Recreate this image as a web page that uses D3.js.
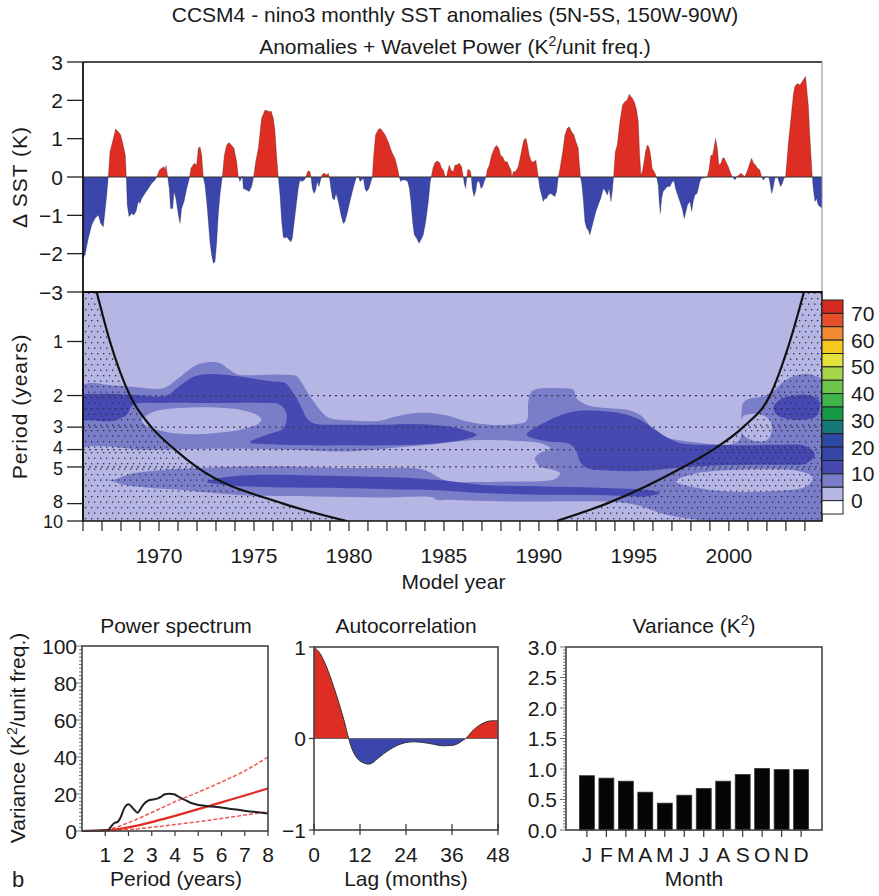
<!DOCTYPE html>
<html><head><meta charset="utf-8">
<script src="https://cdn.jsdelivr.net/npm/d3@7"></script>
<style>
body{margin:0;background:#fff;}
text{font-family:"Liberation Sans",Arial,Helvetica,sans-serif;fill:#1a1a1a;}
</style></head><body>
<svg id="chart" width="879" height="896"></svg>
<script>
// ---------------- DATA ----------------
const titleMain = "CCSM4 - nino3 monthly SST anomalies (5N-5S, 150W-90W)";
const sstYears = [1966.00,1966.11,1966.28,1966.46,1966.63,1966.81,1966.93,1967.07,1967.16,1967.25,1967.33,1967.42,1967.60,1967.72,1967.86,1967.98,1968.12,1968.23,1968.28,1968.33,1968.42,1968.56,1968.68,1968.79,1968.91,1969.00,1969.09,1969.26,1969.44,1969.61,1969.79,1969.89,1970.02,1970.14,1970.26,1970.32,1970.37,1970.46,1970.54,1970.61,1970.72,1970.79,1970.89,1971.02,1971.11,1971.19,1971.32,1971.46,1971.60,1971.68,1971.86,1971.98,1972.07,1972.16,1972.25,1972.33,1972.42,1972.51,1972.60,1972.68,1972.77,1972.86,1972.95,1973.04,1973.12,1973.21,1973.33,1973.44,1973.56,1973.68,1973.82,1973.95,1974.09,1974.18,1974.26,1974.39,1974.44,1974.61,1974.75,1974.88,1974.98,1975.09,1975.23,1975.40,1975.58,1975.84,1975.90,1976.02,1976.11,1976.19,1976.28,1976.37,1976.46,1976.54,1976.63,1976.72,1976.84,1976.95,1977.02,1977.12,1977.25,1977.33,1977.42,1977.51,1977.65,1977.72,1977.79,1977.86,1977.95,1978.00,1978.07,1978.16,1978.25,1978.33,1978.42,1978.53,1978.60,1978.70,1978.83,1978.91,1978.97,1979.05,1979.14,1979.23,1979.32,1979.44,1979.58,1979.70,1979.79,1979.93,1980.05,1980.18,1980.32,1980.40,1980.49,1980.58,1980.67,1980.76,1980.84,1980.93,1981.05,1981.16,1981.23,1981.30,1981.40,1981.54,1981.65,1981.76,1981.90,1982.07,1982.25,1982.42,1982.56,1982.65,1982.72,1982.82,1982.95,1983.09,1983.18,1983.26,1983.35,1983.44,1983.56,1983.69,1983.79,1983.91,1984.04,1984.18,1984.28,1984.33,1984.42,1984.53,1984.67,1984.79,1984.88,1984.97,1985.05,1985.14,1985.19,1985.28,1985.37,1985.49,1985.58,1985.67,1985.81,1985.93,1986.02,1986.07,1986.14,1986.19,1986.25,1986.32,1986.40,1986.44,1986.49,1986.58,1986.67,1986.75,1986.86,1986.95,1987.04,1987.12,1987.21,1987.28,1987.39,1987.51,1987.65,1987.77,1987.89,1987.98,1988.09,1988.21,1988.33,1988.44,1988.53,1988.58,1988.65,1988.74,1988.82,1988.91,1989.04,1989.14,1989.21,1989.32,1989.40,1989.49,1989.61,1989.74,1989.84,1989.93,1989.96,1990.05,1990.14,1990.23,1990.32,1990.40,1990.49,1990.61,1990.72,1990.84,1990.93,1991.02,1991.11,1991.25,1991.37,1991.49,1991.60,1991.72,1991.84,1991.95,1992.07,1992.12,1992.19,1992.26,1992.33,1992.42,1992.51,1992.60,1992.68,1992.77,1992.86,1993.00,1993.12,1993.25,1993.39,1993.51,1993.60,1993.70,1993.79,1993.86,1993.93,1994.02,1994.12,1994.26,1994.40,1994.53,1994.65,1994.75,1994.84,1994.93,1995.05,1995.14,1995.23,1995.30,1995.37,1995.44,1995.53,1995.61,1995.70,1995.79,1995.88,1995.96,1996.11,1996.19,1996.28,1996.33,1996.39,1996.46,1996.54,1996.67,1996.77,1996.90,1997.02,1997.12,1997.19,1997.30,1997.42,1997.54,1997.65,1997.74,1997.82,1997.95,1998.04,1998.12,1998.21,1998.32,1998.39,1998.47,1998.56,1998.74,1998.86,1998.95,1999.05,1999.14,1999.21,1999.30,1999.39,1999.47,1999.58,1999.67,1999.75,1999.84,1999.97,2000.09,2000.18,2000.25,2000.32,2000.40,2000.53,2000.63,2000.74,2000.84,2000.95,2001.07,2001.19,2001.30,2001.40,2001.51,2001.63,2001.72,2001.81,2001.90,2002.00,2002.11,2002.18,2002.25,2002.32,2002.42,2002.56,2002.63,2002.72,2002.81,2002.90,2002.98,2003.05,2003.12,2003.21,2003.30,2003.39,2003.47,2003.60,2003.74,2003.86,2003.96,2004.04,2004.11,2004.18,2004.25,2004.32,2004.39,2004.44,2004.53,2004.61,2004.70,2004.79,2004.90];
const sstValues = [-2.12,-2.03,-1.60,-1.25,-1.08,-0.99,-1.21,-1.30,-0.90,-0.47,0,0.66,1.01,1.25,1.18,1.10,0.83,0.57,0,-0.73,-1.03,-0.95,-0.99,-0.90,-0.64,-0.69,-0.56,-0.43,-0.30,-0.17,-0.08,0,0.18,0.23,0.27,0.18,0.30,0,-0.30,-0.82,-0.82,-0.38,-0.56,-0.99,-1.21,-0.82,-0.64,-0.30,-0.03,0.23,0.36,0.31,0.75,0.79,0.57,0,-0.21,-0.64,-1.17,-1.69,-2.03,-2.25,-2.21,-1.69,-0.99,-0.47,0,0.57,0.83,0.90,0.83,0.75,0.40,0,-0.12,0.03,-0.30,-0.34,-0.38,-0.25,0,0.40,0.75,1.53,1.75,1.70,1.72,1.53,1.18,0.57,0,-0.47,-1.17,-1.56,-1.60,-1.56,-1.64,-1.69,-1.60,-1.17,-0.64,-0.30,-0.08,-0.12,-0.08,-0.02,0.10,0.16,0.14,0,-0.30,-0.43,-0.34,-0.12,-0.25,-0.03,0.07,0.10,0.05,0.10,0,-0.30,-0.56,-0.60,-0.43,-0.64,-0.99,-1.21,-1.17,-0.90,-0.64,-0.38,-0.12,0,0.03,-0.12,-0.08,-0.03,-0.30,-0.38,-0.30,-0.12,0,0.57,1.10,1.23,1.27,1.20,1.10,0.92,0.66,0.49,0.23,0,-0.12,-0.08,-0.08,-0.12,-0.30,-0.64,-1.17,-1.51,-1.60,-1.73,-1.64,-1.51,-1.17,-0.64,-0.12,0,0.23,0.38,0.42,0.36,0.23,0.18,0.03,0.01,0.14,0.31,0.18,0.14,0.31,0.31,0.36,0.27,0,-0.17,-0.30,-0.08,0.18,0.20,0.14,0,-0.30,-0.51,-0.38,-0.12,-0.12,-0.30,-0.25,-0.12,0,0.18,0.31,0.57,0.75,0.83,0.75,0.57,0.53,0.40,0.40,0.27,0.18,0,0.14,0.14,0.18,0.27,0.57,0.83,0.97,1.01,0.83,0.57,0.40,0.40,0.44,0.14,0,-0.30,-0.47,-0.64,-0.56,-0.56,-0.47,-0.43,-0.47,-0.51,-0.38,0,0.23,0.66,1.10,1.27,1.31,1.18,1.10,0.92,0.75,0.40,0,-0.21,-0.56,-1.17,-1.34,-1.38,-1.51,-1.34,-1.17,-0.90,-0.73,-0.56,-0.30,-0.38,-0.47,-0.30,-0.64,-0.38,0,0.66,0.83,1.44,1.88,1.97,2.01,2.16,2.10,2.05,1.92,1.75,1.45,0.60,0.05,0.14,0.40,0.66,0.83,0.79,0.57,0.23,0.10,0,-0.21,-0.64,-0.95,-0.56,-0.38,-0.30,-0.25,-0.25,-0.12,-0.12,-0.30,-0.47,-0.64,-0.82,-1.08,-0.90,-0.73,-0.64,-0.90,-0.64,-0.47,-0.43,-0.30,-0.12,-0.03,-0.02,0,0.18,0.57,0.57,0.75,1.01,0.75,0.31,0.36,0.49,0.50,0.40,0.27,0.10,0,-0.03,-0.08,0,0.05,0.10,0.05,0.01,0.14,0.31,0.49,0.36,0.31,0.23,0.18,0,-0.08,-0.02,0.01,-0.02,-0.21,-0.43,-0.30,-0.03,0,-0.12,-0.25,-0.17,-0.03,0,0.40,0.83,1.27,1.70,2.14,2.36,2.44,2.40,2.49,2.57,2.62,2.23,1.88,1.18,0.57,0,-0.30,-0.64,-0.56,-0.73,-0.77,-0.80];
const sstTicks = [-3,-2,-1,0,1,2,3];
const periodTicks = [1,2,3,4,5,8,10];
const periodGuides = [2,3,4,5];
const yearLabels = [1970,1975,1980,1985,1990,1995,2000];

// wavelet power contour regions: [year, period (years)], level = lower bound of power class
const waveMedium = [[1965.9,1.78],[1967.60,1.76],[1968.82,1.80],[1970.23,1.82],[1970.93,1.63],[1971.46,1.47],[1971.98,1.35],[1972.68,1.30],[1973.21,1.32],[1973.65,1.42],[1974.09,1.52],[1974.96,1.54],[1976.54,1.53],[1977.25,1.56],[1977.51,1.70],[1977.95,2.02],[1978.47,2.40],[1978.91,2.65],[1979.88,2.75],[1981.63,2.76],[1982.51,2.61],[1983.39,2.51],[1984.44,2.51],[1985.32,2.61],[1986.19,2.79],[1987.42,2.91],[1988.82,2.88],[1989.35,2.76],[1989.44,2.16],[1989.61,1.90],[1990.05,1.83],[1991.11,1.82],[1991.81,1.86],[1991.98,2.07],[1992.51,2.25],[1993.21,2.33],[1994.61,2.40],[1995.32,2.56],[1995.67,2.79],[1996.02,3.10],[1996.72,3.42],[1997.77,3.60],[2000.49,3.60],[2000.67,2.45],[2000.75,2.20],[2001.11,2.08],[2001.81,2.02],[2002.42,1.86],[2002.86,1.67],[2003.56,1.54],[2004.26,1.52],[2004.70,1.58],[2005.1,1.70],[2005.1,10.5],[2000.05,10.5],[1998.30,9.85],[1996.72,9.24],[1995.67,8.48],[1994.61,7.95],[1993.21,7.79],[1988.65,7.79],[1986.54,7.72],[1985.32,7.62],[1984.61,7.62],[1984.44,7.39],[1981.63,7.39],[1978.12,7.30],[1974.61,7.21],[1972.86,6.99],[1971.11,6.70],[1969.35,6.50],[1968.12,6.28],[1967.60,6.02],[1966.89,5.77],[1965.9,5.53]];
const waveLightHoles = [
 [[1965.9,4.01],[1969.35,4.01],[1972.86,3.96],[1976.37,3.99],[1978.12,4.06],[1979.88,4.10],[1981.28,4.01],[1982.51,3.89],[1984.26,3.76],[1985.32,3.64],[1986.89,3.54],[1988.65,3.57],[1990.05,3.68],[1990.58,3.93],[1990.05,4.18],[1989.79,4.46],[1990.05,4.97],[1990.75,5.18],[1991.11,5.41],[1990.93,5.77],[1990.40,5.97],[1988.65,6.02],[1986.89,6.07],[1985.32,6.02],[1984.79,5.77],[1984.09,5.25],[1983.39,5.07],[1981.63,5.07],[1979.88,5.07],[1976.37,4.97],[1972.86,5.03],[1971.11,5.12],[1969.35,5.30],[1968.47,5.48],[1967.60,5.89],[1966.89,5.77],[1965.9,5.58]],
 [[1969.09,2.73],[1969.70,2.47],[1971.11,2.35],[1972.86,2.33],[1974.26,2.40],[1975.14,2.56],[1975.40,2.73],[1975.14,2.91],[1974.26,3.10],[1972.86,3.24],[1971.11,3.27],[1969.88,3.10],[1969.26,2.91]],
 [[1997.2,6.0],[1998.2,5.45],[2000.05,5.2],[2002.0,5.15],[2003.6,5.25],[2004.4,5.7],[2004.1,6.4],[2002.4,6.8],[2000.0,6.85],[1998.4,6.55]],
 [[2000.75,2.62],[2001.6,2.54],[2002.16,2.75],[2002.25,3.15],[2002.0,3.54],[2001.3,3.57],[2000.75,3.3],[2000.67,2.9]]
];
const waveDark = [
 [[1965.9,2.02],[1966.89,1.96],[1968.47,1.98],[1970.40,2.00],[1970.93,1.82],[1971.81,1.57],[1972.51,1.52],[1973.74,1.54],[1974.96,1.61],[1976.02,1.67],[1976.63,1.70],[1976.89,1.82],[1977.25,2.07],[1977.51,2.35],[1977.77,2.67],[1978.12,2.85],[1979.88,2.91],[1981.63,2.91],[1983.39,2.88],[1985.14,2.97],[1986.02,3.10],[1986.72,3.31],[1986.02,3.53],[1985.14,3.64],[1983.39,3.76],[1979.88,3.79],[1976.37,3.76],[1974.79,3.64],[1975.67,3.31],[1976.54,3.04],[1976.72,2.56],[1976.37,2.25],[1975.49,2.20],[1973.74,2.20],[1971.98,2.20],[1970.23,2.20],[1968.65,2.25],[1968.30,2.56],[1967.60,2.76],[1966.72,2.76],[1965.9,2.67]],
 [[1989.35,3.31],[1990.40,2.79],[1991.28,2.54],[1992.16,2.43],[1993.91,2.47],[1994.61,2.56],[1995.32,2.73],[1996.02,3.04],[1996.72,3.42],[1997.42,3.68],[1998.30,3.76],[1999.18,3.76],[2000.93,3.79],[2002.68,3.76],[2004.09,3.84],[2004.53,4.27],[2004.09,4.76],[2002.68,4.86],[2000.93,4.86],[1999.18,4.90],[1997.42,5.03],[1995.67,5.25],[1993.91,5.25],[1992.51,5.07],[1992.16,4.66],[1991.98,4.10],[1991.63,3.73],[1990.40,3.60]],
 [[2002.33,2.35],[2002.68,2.11],[2003.39,2.00],[2004.26,2.00],[2004.70,2.11],[2004.79,2.35],[2004.61,2.61],[2003.91,2.73],[2003.04,2.69],[2002.51,2.56]],
 [[1972.51,6.02],[1973.74,5.65],[1975.49,5.53],[1978.12,5.58],[1980.75,5.65],[1983.39,5.77],[1985.14,5.97],[1986.89,6.28],[1990.40,6.42],[1993.91,6.56],[1995.67,6.70],[1996.37,6.99],[1995.67,7.30],[1993.91,7.21],[1990.40,7.15],[1986.89,6.99],[1985.14,6.79],[1983.39,6.70],[1979.88,6.56],[1976.37,6.50],[1973.74,6.34],[1972.51,6.07]]
];
// cone of influence
const coiLeft = [[1966.72,0.53],[1967.42,1.0],[1968.47,2.0],[1969.6,3.0],[1970.84,4.0],[1971.98,5.0],[1976.54,8.0],[1979.88,10.0]];
const coiRight = [[1990.93,10.0],[1993.56,8.0],[1997.6,5.0],[1999.17,4.0],[2000.75,3.0],[2002.16,2.0],[2003.21,1.0],[2003.95,0.53]];

const cbBounds = [75,70,65,60,55,50,45,40,35,30,25,20,15,10,5,0,-5];
const cbColors = ["#d42a1f","#e6502a","#ef8a30","#f7c81e","#e3e23c","#a8d44c","#6cc448","#3db54a","#179a45","#17787a","#2e4aa6","#3647a8","#4549b1","#7a7ec8","#b6b6e5","#ffffff"];
const cbLabels = [70,60,50,40,30,20,10,0];

// power spectrum
const psPeriods = [0,1.10,1.24,1.39,1.53,1.67,1.81,2.00,2.14,2.24,2.39,2.50,2.64,2.81,3.03,3.24,3.39,3.53,3.74,3.96,4.17,4.39,4.67,5.10,5.81,6.53,7.24,8.0];
const psPower = [0,0.36,2.2,4.3,4.9,7.6,12.1,14.4,13.0,11.6,9.9,11.6,14.3,16.2,17.0,17.5,18.4,19.7,20.2,19.9,18.4,17.0,15.3,13.9,13.0,11.7,10.6,9.4];
const redPeriods = [0,1,2,3,4,5,6,7,8];
const redNoise = [0,0.3,2.0,4.8,8.2,11.8,15.5,19.2,23.0];
const redNoiseUpper = [0,0.6,4.5,10.0,15.8,21.0,26.5,32.5,40.0];
const redNoiseLower = [0,0.1,0.8,2.0,3.5,5.0,6.8,8.6,10.5];
const psYTicks = [0,20,40,60,80,100];
const psXTicks = [1,2,3,4,5,6,7,8];

// autocorrelation
const acfLag = [0,1.56,3.3,5.03,6.77,8.07,9.03,10.24,11.55,12.85,14.15,15.0,16.3,18.06,19.8,21.5,23.7,25.9,28.5,31.1,33.7,35.9,37.6,38.9,39.6,41.1,42.8,44.5,46.3,48];
const acfValue = [1.0,0.93,0.78,0.58,0.35,0.16,0,-0.145,-0.23,-0.265,-0.28,-0.273,-0.23,-0.17,-0.12,-0.08,-0.047,-0.036,-0.044,-0.062,-0.08,-0.076,-0.055,-0.018,0,0.073,0.135,0.175,0.193,0.193];
const acfXTicks = [0,12,24,36,48];
const acfYTicks = [-1,0,1];

// monthly variance
const monthNames = ["J","F","M","A","M","J","J","A","S","O","N","D"];
const monthVariance = [0.89,0.85,0.80,0.62,0.44,0.57,0.68,0.80,0.91,1.01,0.99,0.99];
const varYTicks = [0,0.5,1.0,1.5,2.0,2.5,3.0];

// ---------------- DRAW ----------------
const svg = d3.select("#chart");
const defs = svg.append("defs");
const FS = 21;
const minus = v => String(v).replace("-", "\u2212");

function supLabel(sel, before, sup, after) {
  sel.append("tspan").text(before);
  sel.append("tspan").attr("dy", -8).attr("font-size", 14).text(sup);
  sel.append("tspan").attr("dy", 8).text(after);
}

// titles
svg.append("text").attr("x", 455).attr("y", 22).attr("text-anchor", "middle").attr("font-size", FS).text(titleMain);
supLabel(svg.append("text").attr("x", 455).attr("y", 54).attr("text-anchor", "middle").attr("font-size", FS),
  "Anomalies + Wavelet Power (K", "2", "/unit freq.)");

const L = 83, R = 822;
const x = d3.scaleLinear().domain([1966, 2004.9]).range([L, R]);
const ySST = d3.scaleLinear().domain([-3, 3]).range([292, 62]);
const yP = d3.scaleLog().domain([0.53, 10]).range([292, 521]);

// ---- anomalies panel
const z0 = ySST(0);
defs.append("clipPath").attr("id", "clipPos").append("rect").attr("x", L).attr("y", 62).attr("width", R - L).attr("height", z0 - 62);
defs.append("clipPath").attr("id", "clipNeg").append("rect").attr("x", L).attr("y", z0).attr("width", R - L).attr("height", 292 - z0);
const sst = sstYears.map((yv, i) => ({year: yv, value: sstValues[i]}));
const area = d3.area().x(d => x(d.year)).y0(z0).y1(d => ySST(d.value));
svg.append("path").datum(sst).attr("d", area).attr("fill", "#de2d22").attr("clip-path", "url(#clipPos)");
svg.append("path").datum(sst).attr("d", area).attr("fill", "#3a46ab").attr("clip-path", "url(#clipNeg)");
svg.append("path").datum(sst).attr("d", d3.line().x(d => x(d.year)).y(d => ySST(d.value)))
  .attr("fill", "none").attr("stroke", "#222").attr("stroke-width", 0.6).attr("stroke-opacity", 0.45);
svg.append("line").attr("x1", L).attr("x2", R).attr("y1", z0).attr("y2", z0).attr("stroke", "#333").attr("stroke-width", 1);
svg.append("line").attr("x1", L).attr("x2", R).attr("y1", 62).attr("y2", 62).attr("stroke", "#111").attr("stroke-width", 1.5);
svg.append("line").attr("x1", R).attr("x2", R).attr("y1", 62).attr("y2", 292).attr("stroke", "#888").attr("stroke-width", 1);
sstTicks.forEach(t => {
  svg.append("line").attr("x1", 67).attr("x2", L).attr("y1", ySST(t)).attr("y2", ySST(t)).attr("stroke", "#222").attr("stroke-width", 1.3);
  svg.append("text").attr("x", 63).attr("y", ySST(t)).attr("dy", "0.36em").attr("text-anchor", "end").attr("font-size", FS).text(minus(t));
});
svg.append("text").attr("transform", `translate(27,${(62 + 292) / 2}) rotate(-90)`).attr("text-anchor", "middle")
  .attr("font-size", FS).attr("letter-spacing", 1).text("\u0394 SST (K)");

// ---- wavelet panel
const colorFor = lvl => cbColors[cbBounds.indexOf(lvl + 5)];
defs.append("clipPath").attr("id", "clipWave").append("rect").attr("x", L).attr("y", 292).attr("width", R - L).attr("height", 521 - 292);
const gw = svg.append("g").attr("clip-path", "url(#clipWave)");
gw.append("rect").attr("x", L).attr("y", 292).attr("width", R - L).attr("height", 521 - 292).attr("fill", colorFor(0));
const poly = d3.line().x(d => x(d[0])).y(d => yP(d[1])).curve(d3.curveCatmullRomClosed.alpha(0.5));
gw.append("path").attr("d", poly(waveMedium)).attr("fill", colorFor(5));
gw.selectAll(".hole").data(waveLightHoles).join("path").attr("d", d => poly(d)).attr("fill", colorFor(0));
gw.selectAll(".dark").data(waveDark).join("path").attr("d", d => poly(d)).attr("fill", colorFor(10));

// stipple outside cone of influence
const pat = defs.append("pattern").attr("id", "stip").attr("patternUnits", "userSpaceOnUse").attr("width", 6).attr("height", 11);
pat.append("rect").attr("x", 1).attr("y", 1).attr("width", 1.3).attr("height", 1.3).attr("fill", "#2a2a40");
pat.append("rect").attr("x", 4).attr("y", 6.5).attr("width", 1.3).attr("height", 1.3).attr("fill", "#2a2a40");
const branch = d3.line().x(d => x(d[0])).y(d => yP(d[1])).curve(d3.curveMonotoneX);
const leftPath = branch(coiLeft) + `L${L},521L${L},292Z`;
const rightPath = branch(coiRight) + `L${R},292L${R},521Z`;
gw.append("path").attr("d", leftPath).attr("fill", "url(#stip)");
gw.append("path").attr("d", rightPath).attr("fill", "url(#stip)");
periodGuides.forEach(p => {
  gw.append("line").attr("x1", L).attr("x2", R).attr("y1", yP(p)).attr("y2", yP(p))
    .attr("stroke", "#3a3a55").attr("stroke-width", 1.3).attr("stroke-dasharray", "2,4");
});
gw.append("path").attr("d", branch(coiLeft)).attr("fill", "none").attr("stroke", "#111").attr("stroke-width", 2.2);
gw.append("path").attr("d", branch(coiRight)).attr("fill", "none").attr("stroke", "#111").attr("stroke-width", 2.2);
svg.append("rect").attr("x", L).attr("y", 292).attr("width", R - L).attr("height", 521 - 292)
  .attr("fill", "none").attr("stroke", "#111").attr("stroke-width", 1.5);
svg.append("line").attr("x1", L).attr("x2", R).attr("y1", 292).attr("y2", 292).attr("stroke", "#111").attr("stroke-width", 2.2);
svg.append("line").attr("x1", L).attr("x2", L).attr("y1", 62).attr("y2", 521).attr("stroke", "#111").attr("stroke-width", 1.8);
const labelNudge = {4: -1.8, 5: 1.8, 8: -2.2, 10: 0.5};
periodTicks.forEach(p => {
  svg.append("line").attr("x1", 67).attr("x2", L).attr("y1", yP(p)).attr("y2", yP(p)).attr("stroke", "#222").attr("stroke-width", 1.3);
  svg.append("text").attr("x", 63).attr("y", yP(p) + (labelNudge[p] || 0)).attr("dy", "0.35em").attr("text-anchor", "end").attr("font-size", 18).text(p);
});
svg.append("text").attr("transform", `translate(27,${yP(2.3)}) rotate(-90)`).attr("text-anchor", "middle")
  .attr("font-size", FS).attr("letter-spacing", 1).text("Period (years)");
d3.range(1966, 2005).forEach(yr => {
  svg.append("line").attr("x1", x(yr)).attr("x2", x(yr)).attr("y1", 521).attr("y2", 531).attr("stroke", "#222").attr("stroke-width", 1.2);
});
yearLabels.forEach(yr => {
  svg.append("text").attr("x", x(yr)).attr("y", 563).attr("text-anchor", "middle").attr("font-size", FS).text(yr);
});
svg.append("text").attr("x", (L + R) / 2 + 1).attr("y", 589).attr("text-anchor", "middle").attr("font-size", FS).text("Model year");

// colorbar
const yCB = d3.scaleLinear().domain([75, -5]).range([300, 514]);
cbColors.forEach((c, i) => {
  svg.append("rect").attr("x", 822).attr("y", yCB(cbBounds[i])).attr("width", 21)
    .attr("height", yCB(cbBounds[i + 1]) - yCB(cbBounds[i])).attr("fill", c).attr("stroke", "#222").attr("stroke-width", 1);
});
cbLabels.forEach(v => {
  svg.append("text").attr("x", 851).attr("y", yCB(v)).attr("dy", "0.36em").attr("font-size", FS).text(v);
});

// ---- power spectrum panel
const psX = d3.scaleLinear().domain([0, 8]).range([82, 268]);
const psY = d3.scaleLinear().domain([0, 100]).range([831, 646]);
svg.append("text").attr("x", 176).attr("y", 633).attr("text-anchor", "middle").attr("font-size", FS).text("Power spectrum");
d3.range(0, 101, 2).forEach(v => {
  svg.append("line").attr("x1", 82 - (v % 20 === 0 ? 6 : 3)).attr("x2", 82).attr("y1", psY(v)).attr("y2", psY(v)).attr("stroke", "#777").attr("stroke-width", 1);
});
psYTicks.forEach(v => {
  svg.append("text").attr("x", 77).attr("y", psY(v)).attr("dy", "0.36em").attr("text-anchor", "end").attr("font-size", FS).text(v);
});
psXTicks.forEach(v => {
  svg.append("line").attr("x1", psX(v)).attr("x2", psX(v)).attr("y1", 831).attr("y2", 836).attr("stroke", "#333").attr("stroke-width", 1.2);
  svg.append("text").attr("x", psX(v)).attr("y", 862).attr("text-anchor", "middle").attr("font-size", FS).text(v);
});
const psLine = d3.line().x(d => psX(d[0])).y(d => psY(d[1])).curve(d3.curveMonotoneX);
svg.append("path").attr("d", psLine(redPeriods.map((p, i) => [p, redNoiseUpper[i]]))).attr("fill", "none").attr("stroke", "#ef5a55").attr("stroke-width", 1.5).attr("stroke-dasharray", "4,2");
svg.append("path").attr("d", psLine(redPeriods.map((p, i) => [p, redNoiseLower[i]]))).attr("fill", "none").attr("stroke", "#ef5a55").attr("stroke-width", 1.5).attr("stroke-dasharray", "4,2");
svg.append("path").attr("d", psLine(redPeriods.map((p, i) => [p, redNoise[i]]))).attr("fill", "none").attr("stroke", "#e22a22").attr("stroke-width", 2.2);
svg.append("path").attr("d", psLine(psPeriods.map((p, i) => [p, psPower[i]]))).attr("fill", "none").attr("stroke", "#222").attr("stroke-width", 2);
svg.append("rect").attr("x", 82).attr("y", 646).attr("width", 186).attr("height", 185).attr("fill", "none").attr("stroke", "#444").attr("stroke-width", 1.6);
supLabel(svg.append("text").attr("transform", `translate(25,738) rotate(-90)`).attr("text-anchor", "middle").attr("font-size", FS),
  "Variance (K", "2", "/unit freq.)");
svg.append("text").attr("x", 176).attr("y", 886).attr("text-anchor", "middle").attr("font-size", FS).text("Period (years)");
svg.append("text").attr("x", 12).attr("y", 887).attr("font-size", FS + 1).text("b");

// ---- autocorrelation panel
const acX = d3.scaleLinear().domain([0, 48]).range([314, 498]);
const acY = d3.scaleLinear().domain([-1, 1]).range([830, 647]);
svg.append("text").attr("x", 406).attr("y", 633).attr("text-anchor", "middle").attr("font-size", FS).text("Autocorrelation");
const acf = acfLag.map((l, i) => ({lag: l, value: acfValue[i]}));
const a0 = acY(0);
defs.append("clipPath").attr("id", "acPos").append("rect").attr("x", 314).attr("y", 647).attr("width", 184).attr("height", a0 - 647);
defs.append("clipPath").attr("id", "acNeg").append("rect").attr("x", 314).attr("y", a0).attr("width", 184).attr("height", 830 - a0);
const acArea = d3.area().x(d => acX(d.lag)).y0(a0).y1(d => acY(d.value)).curve(d3.curveMonotoneX);
svg.append("path").datum(acf).attr("d", acArea).attr("fill", "#de2d22").attr("clip-path", "url(#acPos)");
svg.append("path").datum(acf).attr("d", acArea).attr("fill", "#3a46ab").attr("clip-path", "url(#acNeg)");
svg.append("path").datum(acf).attr("d", d3.line().x(d => acX(d.lag)).y(d => acY(d.value)).curve(d3.curveMonotoneX))
  .attr("fill", "none").attr("stroke", "#333").attr("stroke-width", 1);
svg.append("line").attr("x1", 314).attr("x2", 498).attr("y1", a0).attr("y2", a0).attr("stroke", "#666").attr("stroke-width", 1.2);
svg.append("rect").attr("x", 314).attr("y", 647).attr("width", 184).attr("height", 183).attr("fill", "none").attr("stroke", "#444").attr("stroke-width", 1.6);
acfXTicks.forEach(v => {
  svg.append("line").attr("x1", acX(v)).attr("x2", acX(v)).attr("y1", 824).attr("y2", 835).attr("stroke", "#333").attr("stroke-width", 1.2);
  svg.append("text").attr("x", acX(v)).attr("y", 862).attr("text-anchor", "middle").attr("font-size", FS).text(v);
});
acfYTicks.forEach(v => {
  svg.append("line").attr("x1", 309).attr("x2", 314).attr("y1", acY(v)).attr("y2", acY(v)).attr("stroke", "#333").attr("stroke-width", 1.2);
  svg.append("text").attr("x", 306).attr("y", acY(v)).attr("dy", "0.36em").attr("text-anchor", "end").attr("font-size", FS).text(minus(v));
});
svg.append("text").attr("x", 406).attr("y", 886).attr("text-anchor", "middle").attr("font-size", FS).text("Lag (months)");

// ---- variance panel
const vX = d3.scaleBand().domain(d3.range(12)).range([566, 822]).paddingInner(0.233).paddingOuter(0.69);
const vY = d3.scaleLinear().domain([0, 3]).range([830, 647]);
supLabel(svg.append("text").attr("x", 694).attr("y", 633).attr("text-anchor", "middle").attr("font-size", FS), "Variance (K", "2", ")");
d3.range(0, 61).forEach(i => {
  const v = i * 0.05;
  svg.append("line").attr("x1", 566 - (i % 10 === 0 ? 6 : 3)).attr("x2", 566).attr("y1", vY(v)).attr("y2", vY(v)).attr("stroke", "#777").attr("stroke-width", 1);
});
varYTicks.forEach(v => {
  svg.append("text").attr("x", 557).attr("y", vY(v)).attr("dy", "0.36em").attr("text-anchor", "end").attr("font-size", FS).text(v.toFixed(1));
});
svg.selectAll(".vbar").data(monthVariance).join("rect")
  .attr("x", (d, i) => vX(i)).attr("width", vX.bandwidth()).attr("y", d => vY(d)).attr("height", d => 830 - vY(d))
  .attr("fill", "#050505").attr("stroke", "#333").attr("stroke-width", 0.8);
monthNames.forEach((m, i) => {
  const cx = vX(i) + vX.bandwidth() / 2;
  svg.append("line").attr("x1", cx).attr("x2", cx).attr("y1", 830).attr("y2", 837).attr("stroke", "#333").attr("stroke-width", 1.2);
  svg.append("text").attr("x", cx).attr("y", 862).attr("text-anchor", "middle").attr("font-size", FS).text(m);
});
svg.append("rect").attr("x", 566).attr("y", 647).attr("width", 256).attr("height", 183).attr("fill", "none").attr("stroke", "#444").attr("stroke-width", 1.6);
svg.append("text").attr("x", 694).attr("y", 886).attr("text-anchor", "middle").attr("font-size", FS).text("Month");
</script>
</body></html>
